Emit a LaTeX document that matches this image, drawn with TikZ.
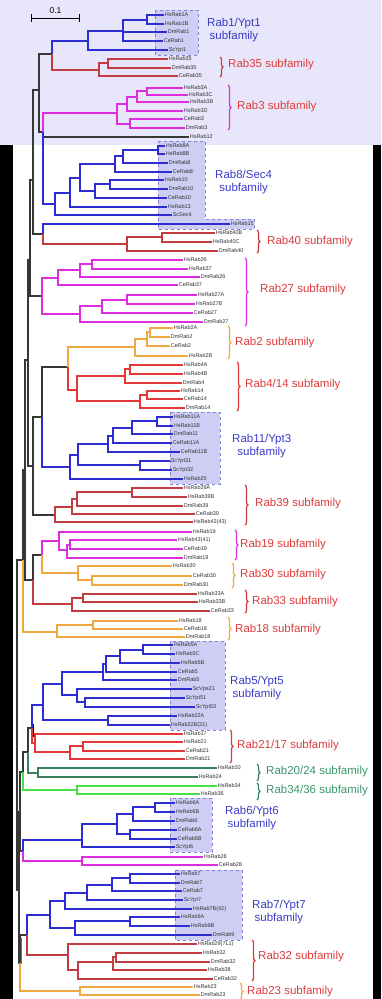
\documentclass[tikz,border=0pt]{standalone}
\usepackage{fontspec}
\setmainfont{Liberation Sans}
\usetikzlibrary{decorations.pathreplacing}
\definecolor{cblue}{RGB}{45,45,210}
\definecolor{cdred}{RGB}{195,60,65}
\definecolor{cbred}{RGB}{228,55,55}
\definecolor{cmag}{RGB}{222,45,222}
\definecolor{corg}{RGB}{240,168,64}
\definecolor{cdgreen}{RGB}{55,130,90}
\definecolor{clgreen}{RGB}{70,225,70}
\definecolor{cback}{RGB}{55,55,55}
\definecolor{tred}{RGB}{222,60,60}
\definecolor{tblue}{RGB}{60,60,200}
\definecolor{tgreen}{RGB}{60,150,110}
\definecolor{bglav}{RGB}{232,230,250}
\definecolor{boxfill}{RGB}{206,206,244}
\definecolor{boxline}{RGB}{130,130,212}
\tikzset{
    leaf/.style = {anchor=west, inner sep=0.6pt, font=\fontsize{5.5}{6}\selectfont, text=black!80, text height=4pt, text depth=1pt},
    br/.style = {line width=1.3pt},
    fam/.style = {anchor=west, inner sep=0pt, font=\fontsize{11.5}{13}\selectfont, align=center},
    subbox/.style = {fill=boxfill, draw=boxline, dashed, line width=0.6pt},
    brk/.style = {decorate, decoration={brace, amplitude=3pt}, line width=1.2pt},
    knot/.style = {line width=2.4pt, black!55}
}

\begin{document}
\begin{tikzpicture}[x=1pt, y=-1pt]
        \useasboundingbox (0,0) rectangle (381,999);
        \fill[bglav] (0,0) rectangle (381,145);
        \fill[black] (0,145) rectangle (381,999);
        \fill[white] (13,145) rectangle (373,999);

        \draw[subbox] (155,10) rectangle (198,55);
        \draw[subbox] (158,141) -- (205,141) -- (205,219) -- (254,219) -- (254,229) -- (158,229) -- cycle;
        \draw[subbox] (170,412) rectangle (220,484);
        \draw[subbox] (170,641) rectangle (225,730);
        \draw[subbox] (170,798) rectangle (212,852);
        \draw[subbox] (175,870) rectangle (242,940);

        \coordinate (sbl) at (31,18);
        \coordinate (sbr) at (80,18);
        \draw[|-|, line width=1pt] (sbl) -- (sbr) node[midway, above=1pt, font=\fontsize{8.5}{9}\selectfont] (sbtext) {0.1};

        \foreach \n/\x/\y in {HsRab1A/164/15, HsRab1B/164/24, DmRab1/167/32, CeRab1/163/41, ScYpt1/168/50,
            HsRab35/168/59, DmRab35/171/68, CeRab35/178/76,
            HsRab3A/183/88, HsRab3C/188/95, HsRab3B/189/102, HsRab3D/183/111, CeRab3/183/119, DmRab3/185/128, HsRab12/189/137,
            HsRab8A/165/146, HsRab8B/165/154, DmRab8/168/163, CeRab8/172/172, HsRab10/164/180, DmRab10/168/189, CeRab10/167/198, HsRab13/167/207, ScSec4/172/215,
            HsRab15/230/224, HsRab40B/215/233, HsRab40C/212/242, DmRab40/218/251,
            HsRab26/183/260, HsRab37/188/269, DmRab26/200/277, CeRab37/178/285, HsRab27A/197/295, HsRab27B/195/304, CeRab27/193/313, DmRab27/203/322,
            HsRab2A/173/328, DmRab2/170/337, CeRab2/170/346, HsRab2B/188/356,
            HsRab4A/183/365, HsRab4B/183/374, DmRab4/182/383, HsRab14/180/391, CeRab14/183/399, DmRab14/185/408,
            HsRab11A/173/417, HsRab11B/173/426, DmRab11/173/434, CeRab11A/172/443, CeRab11B/180/452, ScYpt31/170/461, ScYpt32/172/470, HsRab25/183/479,
            HsRab39A/183/488, HsRab39B/187/497, DmRab39/183/506, CeRab39/195/514,
            HsRab19/192/532, CeRab19/183/549, DmRab19/183/558,
            HsRab30/172/566, CeRab30/192/576, DmRab30/183/585,
            HsRab33A/197/594, HsRab33B/198/602, CeRab33/210/611,
            HsRab18/178/621, CeRab18/183/629, DmRab18/185/637,
            HsRab5A/173/645, HsRab5C/175/654, HsRab5B/180/663, CeRab5/177/672, DmRab5/177/680, ScVps21/192/689, ScYpt51/185/698, ScYpt53/195/707, HsRab22A/177/716,
            HsRab17/183/734, HsRab21/183/742, CeRab21/185/751, DmRab21/185/759,
            HsRab20/217/768, HsRab24/198/777, HsRab34/217/786, HsRab36/200/794,
            HsRab6A/175/803, HsRab6B/175/812, DmRab6/175/821, CeRab6A/177/830, CeRab6B/177/839, ScYpt6/175/847,
            HsRab28/203/857, CeRab28/218/865,
            HsRab7/180/874, DmRab7/180/883, CeRab7/182/891, ScYpt7/183/900, HsRab9A/180/917, HsRab9B/190/926, DmRab9/212/935,
            HsRab32/202/953, DmRab32/210/962, HsRab38/207/970, CeRab32/213/979,
            HsRab23/193/987, DmRab23/200/995}
            \node[leaf] (\n) at (\x,\y) {\n};
        \node[leaf] (HsRab42) at (193,522) {HsRab42(43)};
        \node[leaf] (HsRab43) at (177,540) {HsRab43(41)};
        \node[leaf] (HsRab22B) at (170,725) {HsRab22B(31)};
        \node[leaf] (HsRab7B) at (192,909) {HsRab7B(42)};
        \node[leaf] (HsRab29) at (197,944) {HsRab29(7L1)};

        \coordinate (r1a) at (147,20);
        \coordinate (r1b) at (123,31);
        \coordinate (r1c) at (88,41);
        \coordinate (r35a) at (108,63);
        \coordinate (r35) at (99,70);
        \coordinate (n135) at (52,54);
        \coordinate (r3a) at (147,91);
        \coordinate (r3b) at (137,97);
        \coordinate (r3c) at (127,104);
        \coordinate (r3d) at (130,124);
        \coordinate (r3) at (117,113);
        \coordinate (n312) at (43,132);
        \coordinate (nG1) at (39,90);
        \coordinate (r8a) at (158,150);
        \coordinate (r8b) at (123,156);
        \coordinate (r8c) at (115,164);
        \coordinate (r10a) at (110,184);
        \coordinate (r10b) at (95,191);
        \coordinate (r8d) at (80,178);
        \coordinate (r8e) at (70,193);
        \coordinate (r8f) at (55,204);
        \coordinate (r40a) at (162,237);
        \coordinate (r40) at (127,244);
        \coordinate (n1540) at (43,234);
        \coordinate (nG2) at (33,180);
        \coordinate (r26a) at (92,264);
        \coordinate (r26b) at (80,270);
        \coordinate (r26c) at (58,278);
        \coordinate (r27a) at (127,300);
        \coordinate (r27b) at (102,306);
        \coordinate (r27c) at (80,314);
        \coordinate (r27) at (42,296);
        \coordinate (nG3) at (30,260);
        \coordinate (r2a) at (150,332);
        \coordinate (r2b) at (147,339);
        \coordinate (r2c) at (135,347);
        \coordinate (r4a) at (130,369);
        \coordinate (r4b) at (125,376);
        \coordinate (r14a) at (147,395);
        \coordinate (r14b) at (140,401);
        \coordinate (r4) at (77,390);
        \coordinate (r24) at (68,367);
        \coordinate (r11a) at (157,421);
        \coordinate (r11b) at (132,428);
        \coordinate (r11c) at (113,436);
        \coordinate (r11d) at (108,444);
        \coordinate (r11e) at (140,465);
        \coordinate (r11f) at (78,455);
        \coordinate (r11) at (70,467);
        \coordinate (bX) at (42,417);
        \coordinate (r39a) at (132,492);
        \coordinate (r39b) at (77,499);
        \coordinate (r39c) at (72,507);
        \coordinate (r39) at (55,515);
        \coordinate (bY) at (33,466);
        \coordinate (bW) at (28,360);
        \coordinate (r19a) at (70,545);
        \coordinate (r19b) at (67,550);
        \coordinate (r19) at (59,541);
        \coordinate (r30a) at (92,580);
        \coordinate (r30) at (78,573);
        \coordinate (r1930) at (42,555);
        \coordinate (r33a) at (83,598);
        \coordinate (r33) at (72,604);
        \coordinate (bZ) at (33,580);
        \coordinate (bQ) at (25,470);
        \coordinate (r18a) at (93,625);
        \coordinate (r18) at (57,632);
        \coordinate (bO) at (23,560);
        \coordinate (r5a) at (143,650);
        \coordinate (r5b) at (120,656);
        \coordinate (r5c) at (106,664);
        \coordinate (r5d) at (103,672);
        \coordinate (r5e) at (85,702);
        \coordinate (r5f) at (77,695);
        \coordinate (r5g) at (62,684);
        \coordinate (r22) at (108,720);
        \coordinate (r5) at (43,705);
        \coordinate (r21a) at (83,746);
        \coordinate (r21b) at (70,752);
        \coordinate (r21) at (35,743);
        \coordinate (r521) at (32,728);
        \coordinate (r20) at (38,773);
        \coordinate (r2021) at (28,752);
        \coordinate (r34) at (77,790);
        \coordinate (r3420) at (23,772);
        \coordinate (r6a) at (155,807);
        \coordinate (r6b) at (133,814);
        \coordinate (r6c) at (130,834);
        \coordinate (r6d) at (117,824);
        \coordinate (r6) at (82,840);
        \coordinate (r28) at (82,861);
        \coordinate (r628) at (23,851);
        \coordinate (r7a) at (130,878);
        \coordinate (r7b) at (112,885);
        \coordinate (r7c) at (87,893);
        \coordinate (r7d) at (65,901);
        \coordinate (r9a) at (130,921);
        \coordinate (r9b) at (75,928);
        \coordinate (r7) at (50,915);
        \coordinate (r32a) at (116,957);
        \coordinate (r32b) at (113,962);
        \coordinate (r32c) at (78,970);
        \coordinate (r32) at (68,955);
        \coordinate (r732) at (27,935);
        \coordinate (r23) at (80,991);
        \coordinate (bL1) at (20,963);
        \coordinate (bL2) at (20,812);
        \coordinate (bL3) at (19,890);
        \coordinate (root) at (17,720);

        \draw[knot] (43,123) -- (43,143);
        \draw[knot] (28,262) -- (28,320);
        \draw[knot] (25,372) -- (25,468);
        \draw[knot] (21,938) -- (21,964);
        \draw[knot, black] (33,724) -- (33,737);

        \foreach \p/\c in {n312/HsRab12, nG1/n135, nG1/n312, nG2/nG1, nG2/n1540, nG3/nG2, nG3/r27, bX/r24, bY/bX, bY/r39,
            bW/nG3, bW/bY, bZ/r1930, bQ/bW, bQ/bZ, bO/bQ, r2021/r521, r3420/r2021, bL2/r3420, bL2/r628, bL1/r732, bL3/bL2, bL3/bL1,
            root/bO, root/bL3}
            \draw[br, cback] (\p) |- (\c);
        \foreach \p/\c in {r1a/HsRab1A, r1a/HsRab1B, r1b/r1a, r1b/DmRab1, r1b/CeRab1, r1c/r1b, r1c/ScYpt1, n135/r1c,
            r8a/HsRab8A, r8a/HsRab8B, r8b/r8a, r8b/DmRab8, r8c/r8b, r8c/CeRab8, r10a/HsRab10, r10a/DmRab10, r10b/r10a, r10b/CeRab10,
            r8d/r8c, r8d/r10b, r8e/r8d, r8e/HsRab13, r8f/r8e, r8f/ScSec4, n312/r8f, n1540/HsRab15,
            r11a/HsRab11A, r11a/HsRab11B, r11b/r11a, r11b/DmRab11, r11c/r11b, r11c/CeRab11A, r11d/r11c, r11d/CeRab11B,
            r11e/ScYpt31, r11e/ScYpt32, r11f/r11d, r11f/r11e, r11/r11f, r11/HsRab25, bX/r11,
            r5a/HsRab5A, r5a/HsRab5C, r5b/r5a, r5b/HsRab5B, r5c/r5b, r5c/CeRab5, r5d/r5c, r5d/DmRab5, r5e/ScYpt51, r5e/ScYpt53,
            r5f/ScVps21, r5f/r5e, r5g/r5d, r5g/r5f, r22/HsRab22A, r22/HsRab22B, r5/r5g, r5/r22, r521/r5,
            r6a/HsRab6A, r6a/HsRab6B, r6b/r6a, r6b/DmRab6, r6c/CeRab6A, r6c/CeRab6B, r6d/r6b, r6d/r6c, r6/r6d, r6/ScYpt6, r628/r6,
            r7a/HsRab7, r7a/DmRab7, r7b/r7a, r7b/CeRab7, r7c/r7b, r7c/ScYpt7, r7d/r7c, r7d/HsRab7B,
            r9a/HsRab9A, r9a/HsRab9B, r9b/r9a, r9b/DmRab9, r7/r7d, r7/r9b, r732/r7}
            \draw[br, cblue] (\p) |- (\c);
        \foreach \p/\c in {r35a/HsRab35, r35a/DmRab35, r35/r35a, r35/CeRab35, n135/r35,
            r40a/HsRab40B, r40a/HsRab40C, r40/r40a, r40/DmRab40, n1540/r40,
            r39a/HsRab39A, r39a/HsRab39B, r39b/r39a, r39b/DmRab39, r39c/r39b, r39c/CeRab39, r39/r39c, r39/HsRab42,
            r33a/HsRab33A, r33a/HsRab33B, r33/r33a, r33/CeRab33, bZ/r33,
            r32a/HsRab32, r32a/DmRab32, r32b/r32a, r32b/HsRab38, r32c/r32b, r32c/CeRab32, r32/HsRab29, r32/r32c, r732/r32}
            \draw[br, cdred] (\p) |- (\c);
        \foreach \p/\c in {r4a/HsRab4A, r4a/HsRab4B, r4b/r4a, r4b/DmRab4, r14a/HsRab14, r14a/CeRab14, r14b/r14a, r14b/DmRab14,
            r4/r4b, r4/r14b, r24/r4, r21a/HsRab21, r21a/CeRab21, r21b/r21a, r21b/DmRab21, r21/HsRab17, r21/r21b, r521/r21}
            \draw[br, cbred] (\p) |- (\c);
        \foreach \p/\c in {r3a/HsRab3A, r3a/HsRab3C, r3b/r3a, r3b/HsRab3B, r3c/r3b, r3c/HsRab3D, r3d/CeRab3, r3d/DmRab3,
            r3/r3c, r3/r3d, n312/r3,
            r26a/HsRab26, r26a/HsRab37, r26b/r26a, r26b/DmRab26, r26c/r26b, r26c/CeRab37,
            r27a/HsRab27A, r27a/HsRab27B, r27b/r27a, r27b/CeRab27, r27c/r27b, r27c/DmRab27, r27/r26c, r27/r27c,
            r19a/HsRab43, r19a/CeRab19, r19b/r19a, r19b/DmRab19, r19/HsRab19, r19/r19b, r1930/r19,
            r28/HsRab28, r28/CeRab28, r628/r28}
            \draw[br, cmag] (\p) |- (\c);
        \foreach \p/\c in {r2a/HsRab2A, r2a/DmRab2, r2b/r2a, r2b/CeRab2, r2c/r2b, r2c/HsRab2B, r24/r2c,
            r30a/CeRab30, r30a/DmRab30, r30/HsRab30, r30/r30a, r1930/r30,
            r18a/HsRab18, r18a/CeRab18, r18/r18a, r18/DmRab18, bO/r18,
            r23/HsRab23, r23/DmRab23, bL1/r23}
            \draw[br, corg] (\p) |- (\c);
        \foreach \p/\c in {r20/HsRab20, r20/HsRab24, r2021/r20}
            \draw[br, cdgreen] (\p) |- (\c);
        \foreach \p/\c in {r34/HsRab34, r34/HsRab36, r3420/r34}
            \draw[br, clgreen] (\p) |- (\c);

        \draw[brk, cdred] (220,57) -- (220,77);
        \draw[brk, cmag] (228,85) -- (228,130);
        \draw[brk, cdred] (257,230) -- (257,253);
        \draw[brk, cmag] (245,258) -- (245,326);
        \draw[brk, corg] (228,326) -- (228,359);
        \draw[brk, cbred] (237,362) -- (237,411);
        \draw[brk, cdred] (245,485) -- (245,525);
        \draw[brk, cmag] (235,530) -- (235,560);
        \draw[brk, corg] (232,563) -- (232,588);
        \draw[brk, cdred] (245,590) -- (245,613);
        \draw[brk, corg] (228,617) -- (228,640);
        \draw[brk, cbred] (230,730) -- (230,763);
        \draw[brk, cdgreen] (257,764) -- (257,781);
        \draw[brk, cdgreen] (257,783) -- (257,800);
        \draw[brk, cbred] (252,940) -- (252,981);
        \draw[brk, corg] (240,983) -- (240,1000);

        \node[fam, text=tblue] (fam1) at (207,30) {Rab1/Ypt1\\subfamily};
        \node[fam, text=tred] (fam35) at (228,65) {Rab35 subfamily};
        \node[fam, text=tred] (fam3) at (237,107) {Rab3 subfamily};
        \node[fam, text=tblue] (fam8) at (215,182) {Rab8/Sec4\\subfamily};
        \node[fam, text=tred] (fam40) at (267,242) {Rab40 subfamily};
        \node[fam, text=tred] (fam27) at (260,290) {Rab27 subfamily};
        \node[fam, text=tred] (fam2) at (235,343) {Rab2 subfamily};
        \node[fam, text=tred] (fam4) at (245,385) {Rab4/14 subfamily};
        \node[fam, text=tblue] (fam11) at (232,446) {Rab11/Ypt3\\subfamily};
        \node[fam, text=tred] (fam39) at (255,504) {Rab39 subfamily};
        \node[fam, text=tred] (fam19) at (240,545) {Rab19 subfamily};
        \node[fam, text=tred] (fam30) at (240,575) {Rab30 subfamily};
        \node[fam, text=tred] (fam33) at (252,602) {Rab33 subfamily};
        \node[fam, text=tred] (fam18) at (235,630) {Rab18 subfamily};
        \node[fam, text=tblue] (fam5) at (230,688) {Rab5/Ypt5\\subfamily};
        \node[fam, text=tred] (fam21) at (237,746) {Rab21/17 subfamily};
        \node[fam, text=tgreen] (fam20) at (266,772) {Rab20/24 subfamily};
        \node[fam, text=tgreen] (fam34) at (266,791) {Rab34/36 subfamily};
        \node[fam, text=tblue] (fam6) at (225,818) {Rab6/Ypt6\\subfamily};
        \node[fam, text=tblue] (fam7) at (252,912) {Rab7/Ypt7\\subfamily};
        \node[fam, text=tred] (fam32) at (258,957) {Rab32 subfamily};
        \node[fam, text=tred] (fam23) at (247,992) {Rab23 subfamily};
\end{tikzpicture}
\end{document}
